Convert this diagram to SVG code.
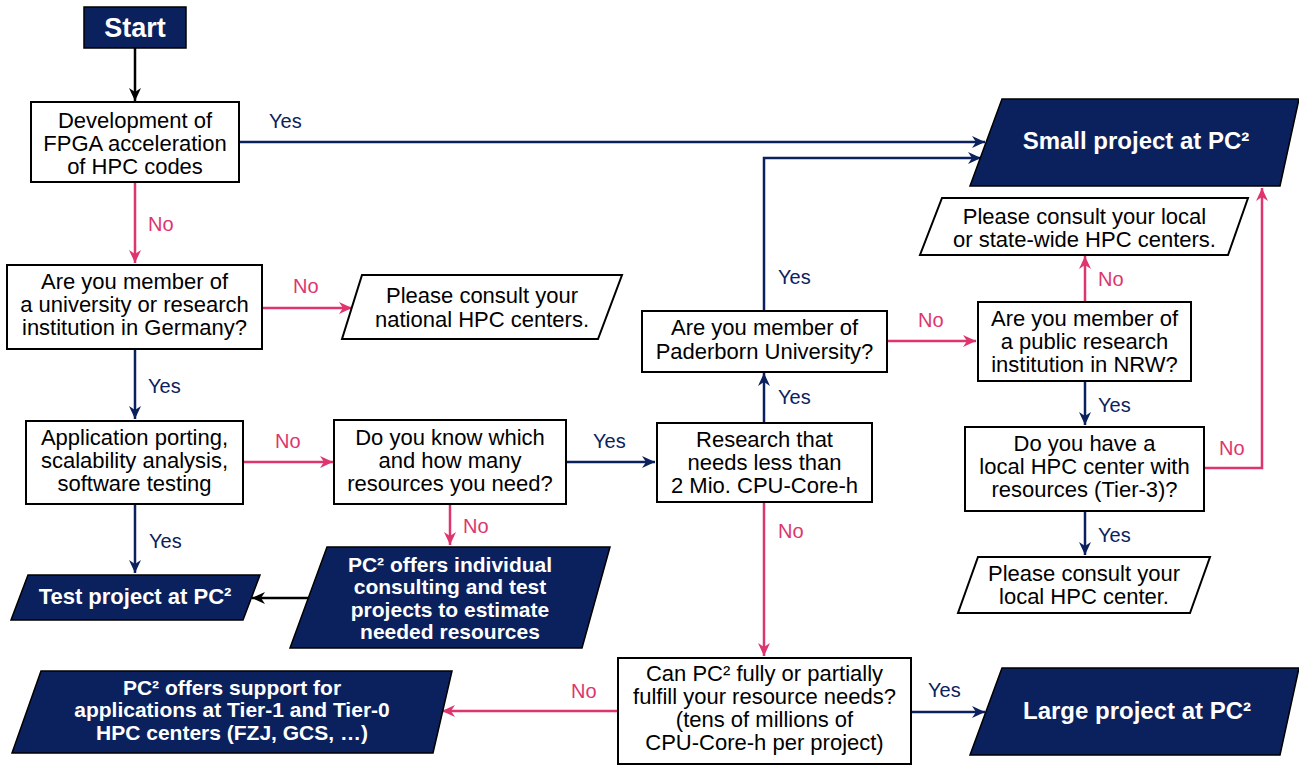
<svg xmlns="http://www.w3.org/2000/svg" width="1299" height="765" viewBox="0 0 1299 765">
<style>
.box{fill:#fff;stroke:#000;stroke-width:2}
.term{fill:#0b215e;stroke:#000;stroke-width:1.5}
.t{font-family:"Liberation Sans",Arial,sans-serif;font-size:22px;fill:#000;text-anchor:middle}
.tb{font-family:"Liberation Sans",Arial,sans-serif;font-weight:bold;fill:#fff;text-anchor:middle}
.lbl{font-family:"Liberation Sans",Arial,sans-serif;font-size:20px}
.yes{fill:#0b215e}
.no{fill:#de356e}
.cy{fill:none;stroke:#0b215e;stroke-width:2.5;marker-end:url(#ay)}
.cn{fill:none;stroke:#de356e;stroke-width:2.5;marker-end:url(#an)}
.ck{fill:none;stroke:#000;stroke-width:2.5;marker-end:url(#ak)}
</style>
<defs>
<marker id="ay" markerUnits="userSpaceOnUse" markerWidth="14" markerHeight="14" refX="13" refY="6" orient="auto"><path d="M0,0 L13,6 L0,12 L4,6 Z" fill="#0b215e"/></marker>
<marker id="an" markerUnits="userSpaceOnUse" markerWidth="14" markerHeight="14" refX="13" refY="6" orient="auto"><path d="M0,0 L13,6 L0,12 L4,6 Z" fill="#de356e"/></marker>
<marker id="ak" markerUnits="userSpaceOnUse" markerWidth="14" markerHeight="14" refX="13" refY="6" orient="auto"><path d="M0,0 L13,6 L0,12 L4,6 Z" fill="#000"/></marker>
</defs>
<rect width="1299" height="765" fill="#fff"/>

<g id="connectors">
<path class="ck" d="M135,48 V101"/>
<path class="cy" d="M239,142 H985"/>
<path class="cn" d="M135,182 V263"/>
<path class="cn" d="M262,308 H352"/>
<path class="cy" d="M135,349 V419"/>
<path class="cn" d="M243,462 H333"/>
<path class="cy" d="M135,504 V573"/>
<path class="cy" d="M566,462 H655"/>
<path class="cn" d="M450,504 V545"/>
<path class="ck" d="M308,598 H252"/>
<path class="cy" d="M764,423 V373"/>
<path class="cn" d="M764,502 V656"/>
<path class="cy" d="M764,311 V158 H981"/>
<path class="cn" d="M887,341 H976"/>
<path class="cn" d="M1085,302 V256"/>
<path class="cy" d="M1085,381 V425"/>
<path class="cn" d="M1204,468 H1262 V188"/>
<path class="cy" d="M1085,511 V555"/>
<path class="cn" d="M618,711 H442"/>
<path class="cy" d="M911,712 H985"/>
<text class="lbl yes" x="269" y="128">Yes</text>
<text class="lbl no" x="148" y="231">No</text>
<text class="lbl no" x="293" y="293">No</text>
<text class="lbl yes" x="148" y="393">Yes</text>
<text class="lbl no" x="275" y="448">No</text>
<text class="lbl yes" x="593" y="448">Yes</text>
<text class="lbl no" x="463" y="533">No</text>
<text class="lbl yes" x="149" y="548">Yes</text>
<text class="lbl yes" x="778" y="404">Yes</text>
<text class="lbl yes" x="778" y="284">Yes</text>
<text class="lbl no" x="918" y="327">No</text>
<text class="lbl no" x="1098" y="286">No</text>
<text class="lbl yes" x="1098" y="412">Yes</text>
<text class="lbl no" x="1219" y="455">No</text>
<text class="lbl yes" x="1098" y="542">Yes</text>
<text class="lbl no" x="778" y="538">No</text>
<text class="lbl no" x="571" y="698">No</text>
<text class="lbl yes" x="928" y="697">Yes</text>
</g>

<g id="start">
<rect class="term" x="84" y="7" width="102" height="41"/>
<text class="tb" x="135" y="37" font-size="27">Start</text>
</g>

<g id="fpga">
<rect class="box" x="31" y="102" width="208" height="80"/>
<text class="t" x="135" y="128">Development of</text>
<text class="t" x="135" y="151">FPGA acceleration</text>
<text class="t" x="135" y="174">of HPC codes</text>
</g>

<g id="small-project">
<polygon class="term" points="1002,99 1299,99 1280,186 970,186"/>
<text class="tb" x="1136" y="149" font-size="24">Small project at PC²</text>
</g>

<g id="germany">
<rect class="box" x="7" y="265" width="255" height="84"/>
<text class="t" x="134.5" y="289">Are you member of</text>
<text class="t" x="134.5" y="312">a university or research</text>
<text class="t" x="134.5" y="335">institution in Germany?</text>
</g>

<g id="national">
<polygon class="box" points="362,275 622,275 598,339 342,339"/>
<text class="t" x="482" y="303">Please consult your</text>
<text class="t" x="482" y="327">national HPC centers.</text>
</g>

<g id="porting">
<rect class="box" x="26" y="421" width="217" height="83"/>
<text class="t" x="134.5" y="445">Application porting,</text>
<text class="t" x="134.5" y="468">scalability analysis,</text>
<text class="t" x="134.5" y="491">software testing</text>
</g>

<g id="know-resources">
<rect class="box" x="334" y="420" width="232" height="84"/>
<text class="t" x="450" y="445">Do you know which</text>
<text class="t" x="450" y="468">and how many</text>
<text class="t" x="450" y="491">resources you need?</text>
</g>

<g id="research">
<rect class="box" x="657" y="423" width="215" height="79"/>
<text class="t" x="764.5" y="447">Research that</text>
<text class="t" x="764.5" y="470">needs less than</text>
<text class="t" x="764.5" y="493">2 Mio. CPU-Core-h</text>
</g>

<g id="paderborn">
<rect class="box" x="642" y="311" width="245" height="61"/>
<text class="t" x="764.5" y="335">Are you member of</text>
<text class="t" x="764.5" y="359">Paderborn University?</text>
</g>

<g id="nrw">
<rect class="box" x="978" y="302" width="213" height="79"/>
<text class="t" x="1084.5" y="326">Are you member of</text>
<text class="t" x="1084.5" y="349">a public research</text>
<text class="t" x="1084.5" y="372">institution in NRW?</text>
</g>

<g id="state-wide">
<polygon class="box" points="942,198 1248,198 1228,255 920,255"/>
<text class="t" x="1084.5" y="224">Please consult your local</text>
<text class="t" x="1084.5" y="247">or state-wide HPC centers.</text>
</g>

<g id="tier3">
<rect class="box" x="965" y="427" width="239" height="84"/>
<text class="t" x="1084.5" y="451">Do you have a</text>
<text class="t" x="1084.5" y="474">local HPC center with</text>
<text class="t" x="1084.5" y="497">resources (Tier-3)?</text>
</g>

<g id="local-center">
<polygon class="box" points="978,557 1210,557 1190,613 958,613"/>
<text class="t" x="1084" y="581">Please consult your</text>
<text class="t" x="1084" y="604">local HPC center.</text>
</g>

<g id="test-project">
<polygon class="term" points="28,575 260,575 243,620 11,620"/>
<text class="tb" x="135" y="604" font-size="22">Test project at PC²</text>
</g>

<g id="consulting">
<polygon class="term" points="327,547 610,547 582,648 290,648"/>
<text class="tb" x="450" y="572" font-size="21">PC² offers individual</text>
<text class="tb" x="450" y="594" font-size="21">consulting and test</text>
<text class="tb" x="450" y="617" font-size="21">projects to estimate</text>
<text class="tb" x="450" y="639" font-size="21">needed resources</text>
</g>

<g id="can-pc2">
<rect class="box" x="618" y="658" width="293" height="106"/>
<text class="t" x="764.5" y="681">Can PC² fully or partially</text>
<text class="t" x="764.5" y="704">fulfill your resource needs?</text>
<text class="t" x="764.5" y="727">(tens of millions of</text>
<text class="t" x="764.5" y="750">CPU-Core-h per project)</text>
</g>

<g id="tier01">
<polygon class="term" points="41,671 452,671 433,753 12,753"/>
<text class="tb" x="232" y="695" font-size="21">PC² offers support for</text>
<text class="tb" x="232" y="717" font-size="21">applications at Tier-1 and Tier-0</text>
<text class="tb" x="232" y="740" font-size="21">HPC centers (FZJ, GCS, …)</text>
</g>

<g id="large-project">
<polygon class="term" points="1002,668 1299,668 1280,755 970,755"/>
<text class="tb" x="1137" y="719" font-size="24">Large project at PC²</text>
</g>
</svg>
